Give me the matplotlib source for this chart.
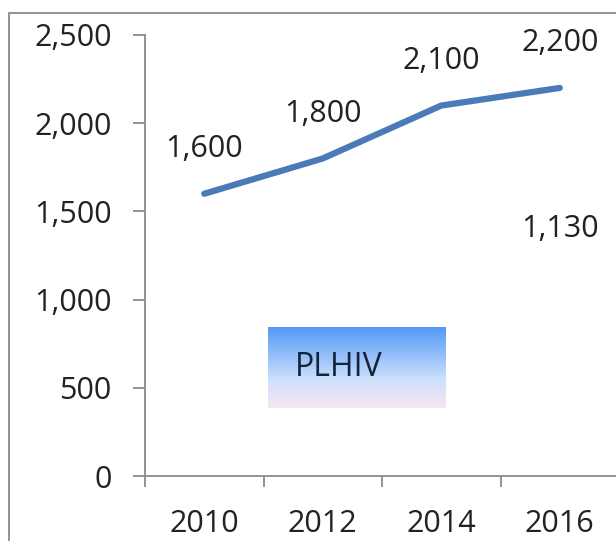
import matplotlib
matplotlib.use("Agg")
import matplotlib.pyplot as plt
import numpy as np
from matplotlib.patches import Rectangle
from matplotlib.ticker import FuncFormatter

categories = ["2010", "2012", "2014", "2016"]
plhiv = [1600, 1800, 2100, 2200]
hidden_values = [None, None, None, 1130]
yticks = [0, 500, 1000, 1500, 2000, 2500]
box_label = "PLHIV"

W, H = 616, 541
plt.rcParams['font.family'] = ['Open Sans', 'DejaVu Sans']
fig = plt.figure(figsize=(W / 100, H / 100), dpi=100)
fig.patch.set_facecolor('white')

# outer chart border (cropped at right and bottom)
fig.patches.append(Rectangle((9 / W, -0.1), 1.2, 1.1 - 13 / H, transform=fig.transFigure,
                             fill=False, edgecolor='#8a8a8a', linewidth=1.3, zorder=0))

ax = fig.add_axes([145 / W, 1 - 476 / H, 474 / W, (476 - 35) / H])
ax.set_facecolor('none')
x = np.arange(len(categories))
ax.plot(x, plhiv, color='#4a7ab8', linewidth=4.5, solid_capstyle='round', zorder=3)
for xi, v in zip(x, plhiv):
    ax.annotate(f"{v:,}", (xi, v), xytext=(0, 32), textcoords='offset points',
                ha='center', va='center', fontsize=22, color='#222222')
for xi, v in zip(x, hidden_values):
    if v is not None:
        ax.annotate(f"{v:,}", (xi, v), xytext=(0, 34), textcoords='offset points',
                    ha='center', va='center', fontsize=22, color='#222222')

ax.set_xlim(-0.5, len(categories) - 0.5)
ax.set_ylim(0, 2500)
ax.set_yticks(yticks)
ax.yaxis.set_major_formatter(FuncFormatter(lambda v, p: f"{int(v):,}"))
ax.set_xticks(x)
ax.set_xticklabels(categories)
ax.set_xticks(np.arange(-0.5, len(categories) + 0.5, 1), minor=True)
ax.tick_params(axis='x', which='major', length=0, pad=24, labelsize=22, labelcolor='#222222')
ax.tick_params(axis='x', which='minor', length=8, width=1.3, color='#8a8a8a', direction='out')
ax.tick_params(axis='y', length=9, width=1.3, color='#8a8a8a', pad=15, labelsize=22,
               labelcolor='#222222')
for s in ['top', 'right']:
    ax.spines[s].set_visible(False)
for s in ['left', 'bottom']:
    ax.spines[s].set_color('#8a8a8a')
    ax.spines[s].set_linewidth(1.3)

# gradient box
bx = fig.add_axes([268 / W, 1 - 408 / H, 178 / W, 81 / H])
n = 100
t = np.linspace(0, 1, n)
top = np.array([0.33, 0.60, 0.97])
mid = np.array([0.80, 0.88, 0.99])
bot = np.array([0.97, 0.90, 0.95])
cols = np.zeros((n, 1, 3))
for i, ti in enumerate(t):
    if ti < 0.65:
        f = ti / 0.65
        cols[i, 0] = top * (1 - f) + mid * f
    else:
        f = (ti - 0.65) / 0.35
        cols[i, 0] = mid * (1 - f) + bot * f
bx.imshow(cols, aspect='auto', extent=[0, 1, 0, 1])
bx.set_axis_off()
bx.text(0.15, 0.5, box_label, transform=bx.transAxes, ha='left', va='center',
        fontsize=23, color='#16233b')

fig.savefig('out.png', dpi=100, facecolor='white')
